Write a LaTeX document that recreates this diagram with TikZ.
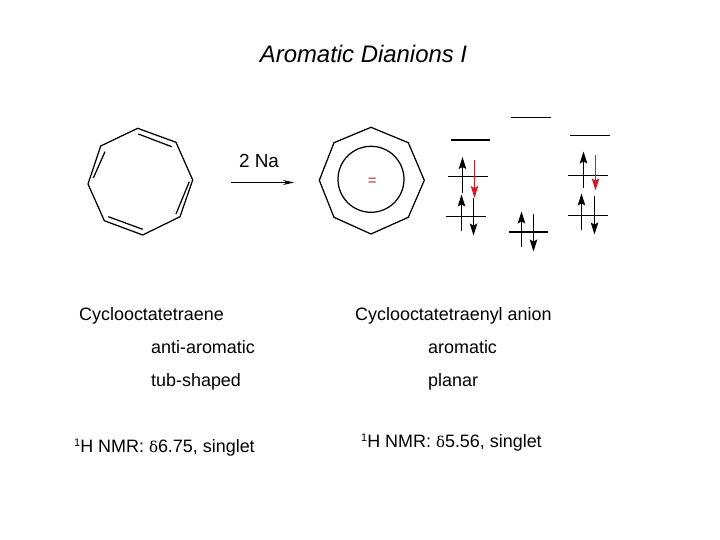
\documentclass[tikz,border=0pt]{standalone}
\usepackage{fontspec}
\setmainfont{Liberation Sans}
\newfontfamily\greekfont{DejaVu Serif}
\usetikzlibrary{arrows.meta}
\definecolor{spinred}{RGB}{215,25,35}
\definecolor{chargered}{RGB}{180,40,45}
\tikzset{
 ring/.style={line width=1.25pt,black},
 level/.style={line width=1pt,black},
 thicklevel/.style={line width=2pt,black},
 spin/.style={line width=1.2pt,black,-{Stealth[length=12pt,width=7.5pt,inset=2pt]}},
 redspin/.style={line width=1.2pt,spinred,-{Stealth[length=12pt,width=7.5pt,inset=2pt]}},
 lbl/.style={inner sep=0pt,anchor=base west,font=\fontsize{18}{20}\selectfont},
}
\newcommand{\nmr}[1]{\raisebox{6pt}{\fontsize{11}{12}\selectfont 1}H NMR: {\greekfont\fontsize{15}{16}\selectfont δ}#1, singlet}
\begin{document}
\begin{tikzpicture}[x=1bp,y=-1bp]
\useasboundingbox (0,0) rectangle (720,540);
% title
\node[inner sep=0pt,anchor=base] (title) at (363.5,63) {\fontsize{24}{26}\selectfont\itshape Aromatic Dianions I};
% COT
\draw[ring,line join=round] (137.7,128.3) -- (176,142.3) -- (192.7,180) -- (180,216.7) -- (142.7,235) -- (104.3,220.7) -- (88,184) -- (100.7,146) -- cycle;
\draw[ring] (138.3,134) -- (171.7,146.7);
\draw[ring] (189.3,181.7) -- (176,214);
\draw[ring] (108.3,216.7) -- (142.7,229.3);
\draw[ring] (105,151.7) -- (93.3,178);
% reaction
\node[inner sep=0pt,anchor=base] (na) at (259,168) {\fontsize{19}{21}\selectfont 2 Na};
\coordinate (ra) at (230.5,182.5);
\coordinate (rb) at (294,182.5);
\draw[line width=1pt,-{Stealth[length=11pt,width=5pt]}] (ra) -- (rb);
% anion
\draw[ring,line join=round] (371,127.3) -- (408.3,142.7) -- (424.3,180.3) -- (408.3,217.3) -- (371,234) -- (334,217.3) -- (319.3,180.3) -- (334,142.7) -- cycle;
\draw[ring] (371,179.3) circle (33);
\node[inner sep=0pt,text=chargered] (charge) at (372.3,181.5) {\fontsize{15}{16}\selectfont =};
% levels
\draw[thicklevel] (451,140) -- (490.3,140);
\draw[level] (511,117.5) -- (551,117.5);
\draw[level] (570,135.5) -- (609.5,135.5);
\draw[level] (448,176.5) -- (487.7,176.5);
\draw[level] (446.3,216.5) -- (486,216.5);
\draw[thicklevel] (508.7,232) -- (548,232);
\draw[level] (568,175.5) -- (607.5,175.5);
\draw[level] (568,215.5) -- (607.5,215.5);
% spins
\draw[spin] (462.5,193.5) -- (462.5,157);
\draw[redspin] (474.5,160) -- (474.5,198);
\draw[spin] (461.5,231.5) -- (461.5,194.5);
\draw[spin] (473.5,198) -- (473.5,235.5);
\draw[spin] (521.5,247.5) -- (521.5,211.5);
\draw[spin] (533.5,214) -- (533.5,251.5);
\draw[spin] (583.5,188) -- (583.5,151.5);
\draw[redspin] (595.5,155.5) -- (595.5,190.5);
\draw[spin] (581.5,230.5) -- (581.5,193.5);
\draw[spin] (594.5,196) -- (594.5,234.5);
% labels
\node[lbl] (a1) at (79,320.7) {Cyclooctatetraene};
\node[lbl] (a2) at (355,320.7) {Cyclooctatetraenyl anion};
\node[lbl] (b1) at (151,353.7) {anti-aromatic};
\node[lbl] (b2) at (428,353.7) {aromatic};
\node[lbl] (c1) at (151,386.2) {tub-shaped};
\node[lbl] (c2) at (428,386.2) {planar};
\node[lbl] (d1) at (74,452) {\nmr{6.75}};
\node[lbl] (d2) at (361,447) {\nmr{5.56}};
\end{tikzpicture}
\end{document}
